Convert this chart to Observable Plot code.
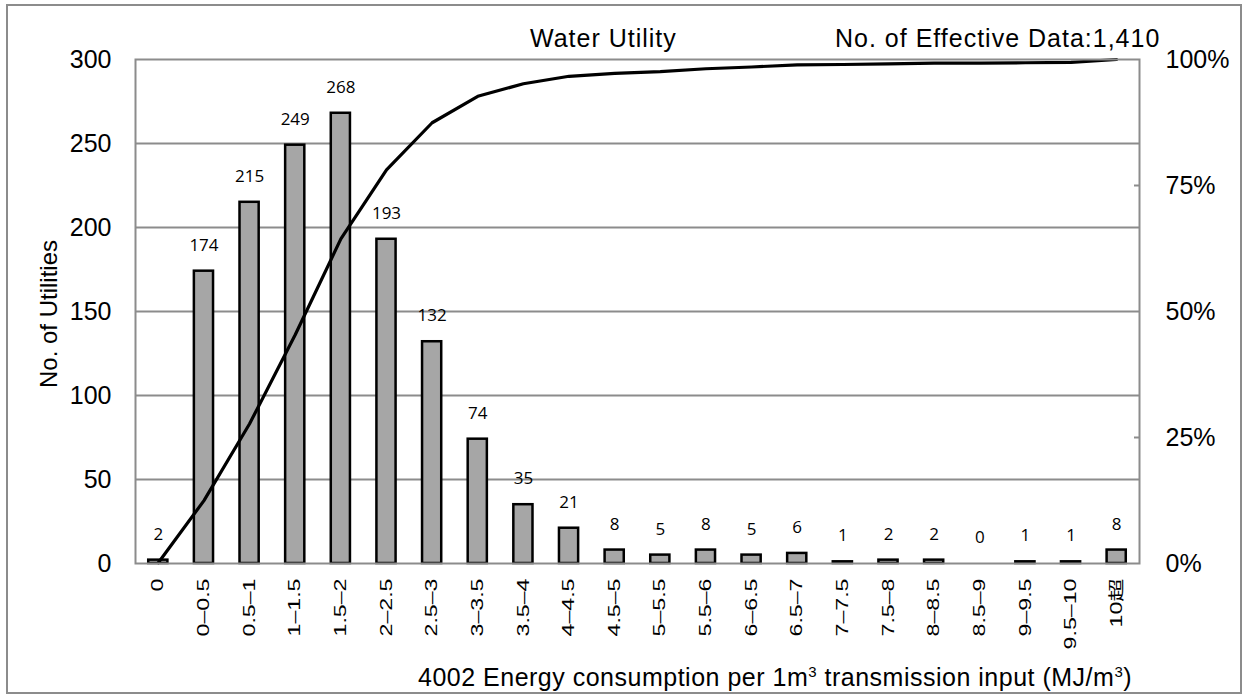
<!DOCTYPE html>
<html><head><meta charset="utf-8">
<script src="https://cdn.jsdelivr.net/npm/d3@7"></script>
<script src="https://cdn.jsdelivr.net/npm/@observablehq/plot@0.6"></script>
<style>
body{margin:0;background:#fff;}
#wrap{position:relative;width:1248px;height:698px;overflow:hidden;background:#fff;}
#border{position:absolute;left:6px;top:4px;width:1232px;height:686px;border:2px solid #8c8c8c;box-sizing:content-box;}
#chart{position:absolute;left:0;top:0;}
.t{position:absolute;font-family:"Liberation Sans",Arial,sans-serif;white-space:nowrap;color:#000;line-height:1;}
.t sup{font-size:60%;vertical-align:0.6em;line-height:0;}
</style></head><body>
<div id="wrap">
<div id="border"></div>
<div id="chart"></div>
<div class="t" style="left:530px;top:26px;font-size:25px;letter-spacing:1px;">Water Utility</div>
<div class="t" style="left:835px;top:26px;font-size:25px;letter-spacing:1px;">No. of Effective Data:1,410</div>
<div class="t" style="left:418px;top:665px;font-size:25px;letter-spacing:0.5px;">4002 Energy consumption per 1m<sup>3</sup> transmission input (MJ/m<sup>3</sup>)</div>
<div class="t" style="left:49px;top:314px;font-size:24px;transform:translate(-50%,-50%) rotate(-90deg);">No. of Utilities</div>
</div>
<script>
const categories = ["0","0–0.5","0.5–1","1–1.5","1.5–2","2–2.5","2.5–3","3–3.5","3.5–4","4–4.5","4.5–5","5–5.5","5.5–6","6–6.5","6.5–7","7–7.5","7.5–8","8–8.5","8.5–9","9–9.5","9.5–10","10超"];
const counts = [2,174,215,249,268,193,132,74,35,21,8,5,8,5,6,1,2,2,0,1,1,8];
const cumulativePct = [0.14,12.48,27.73,45.39,64.40,78.09,87.45,92.70,95.18,96.67,97.23,97.59,98.16,98.51,98.94,99.01,99.15,99.29,99.29,99.36,99.43,100];
const leftTicks = [0,50,100,150,200,250,300];
const rightTicksPct = [0,25,50,75,100];
const rightMinorTicksPct = [25,75];
const gridValues = [50,100,150,200,250];

const data = categories.map((c,i)=>({cat:c, n:counts[i], pct:cumulativePct[i]}));
const pctToCount = p => p*3;

const chart = Plot.plot({
  width:1248, height:698,
  marginLeft:135, marginRight:109, marginTop:59, marginBottom:135,
  x:{domain:categories, paddingInner:0.58, paddingOuter:0.29, round:false, label:null},
  y:{domain:[0,300], label:null},
  style:{fontFamily:"'Liberation Sans', Arial, 'Noto Sans CJK JP', sans-serif", background:"transparent", overflow:"visible", color:"#000"},
  marks:[
    Plot.ruleY(gridValues,{stroke:"#8c8c8c",strokeWidth:2,strokeOpacity:1}),
    Plot.barY(data,{x:"cat",y:"n",fill:"#a6a6a6",stroke:"#000",strokeWidth:2.5}),
    Plot.line(data,{x:"cat",y:d=>pctToCount(d.pct),stroke:"#000",strokeWidth:3.2}),
    Plot.text(data,{x:"cat",y:"n",text:d=>String(d.n),dy:-26,fontSize:17,fontFamily:"'Open Sans', sans-serif",fill:"#000"}),
    Plot.frame({stroke:"#8c8c8c",strokeWidth:2,strokeOpacity:1}),
    Plot.axisY({ticks:leftTicks, tickSize:0, tickPadding:24, fontSize:25, label:null}),
    Plot.axisY({anchor:"right", ticks:rightTicksPct.map(pctToCount), tickFormat:d=>Math.round(d/3)+"%", tickSize:0, tickPadding:26, fontSize:25, label:null}),
    Plot.axisY({anchor:"right", ticks:rightMinorTicksPct.map(pctToCount), tickFormat:()=>"", tickSize:6, dx:-6, stroke:"#8c8c8c", strokeWidth:2, label:null}),
    Plot.axisX({tickRotate:-90, tickSize:0, tickPadding:15, fontSize:16, label:null})
  ]
});
document.getElementById("chart").appendChild(chart);
d3.select(chart).selectAll('g[aria-label="x-axis tick label"] text').each(function(){
  const t = this.getAttribute("transform") || "";
  this.setAttribute("transform", t + " scale(1.45,1)");
});
</script>
</body></html>
